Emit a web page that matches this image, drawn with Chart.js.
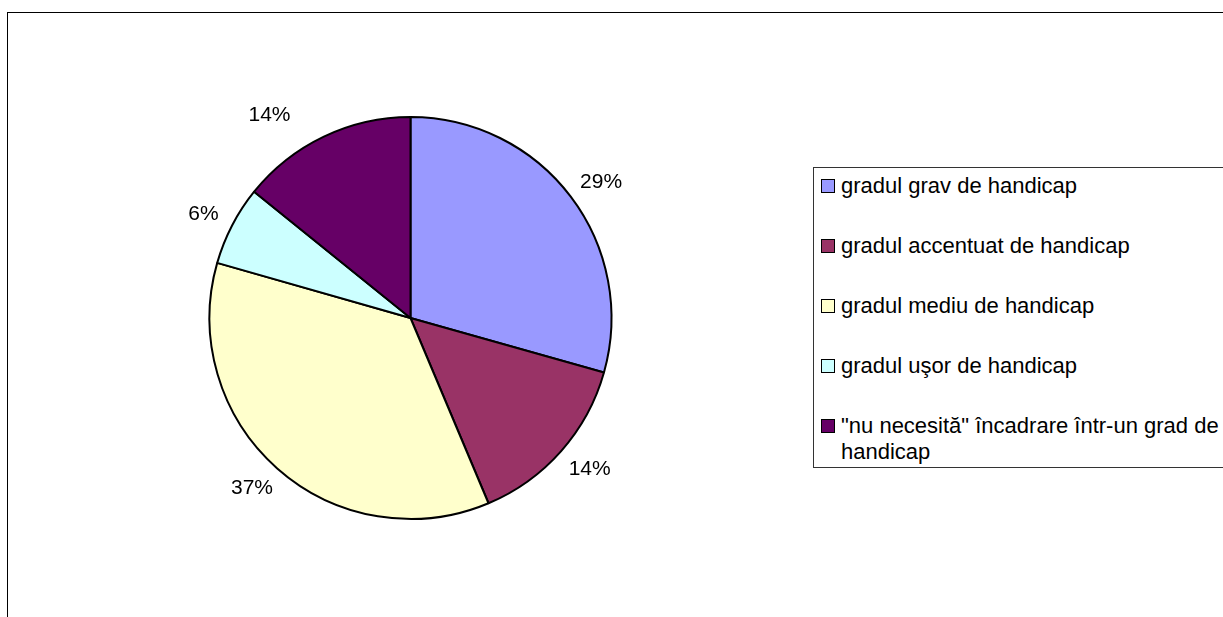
<!DOCTYPE html>
<html>
<head>
<meta charset="utf-8">
<script src="https://cdn.jsdelivr.net/npm/chart.js@4.4.1/dist/chart.umd.min.js"></script>
<style>
  html, body { margin: 0; padding: 0; background: #fff; width: 1223px; height: 617px; overflow: hidden; }
  #frame { position: absolute; left: 7px; top: 12px; width: 1400px; height: 800px; border: 1px solid #000; box-sizing: border-box; }
  #wrap { position: absolute; left: 0; top: 0; width: 800px; height: 617px; }
  #legend { position: absolute; left: 813px; top: 167px; width: 430px; height: 301px; border: 1px solid #333; box-sizing: border-box;
            font-family: "Liberation Sans", Arial, sans-serif; font-size: 22px; color: #000; }
  .item { position: absolute; left: 0; line-height: 26px; }
  .mk { position: absolute; left: 7px; top: 6px; width: 14px; height: 14px; border: 1.5px solid #000; box-sizing: border-box; }
  .tx { position: absolute; left: 27px; top: 0; white-space: nowrap; }
</style>
</head>
<body>
<div id="frame"></div>
<div id="wrap"><canvas id="c"></canvas></div>
<div id="legend"></div>
<script>
const categories = [
  'gradul grav de handicap',
  'gradul accentuat de handicap',
  'gradul mediu de handicap',
  'gradul uşor de handicap',
  ['"nu necesită" încadrare într-un grad de', 'handicap']
];
const values = [29.4, 14.3, 35.8, 6.4, 14.2];
const pctLabels = ['29%', '14%', '37%', '6%', '14%'];
const colors = ['#9999FF', '#993366', '#FFFFCC', '#CCFFFF', '#660066'];

const FONT = '"Liberation Sans", Arial, sans-serif';

const pctPlugin = {
  id: 'pctPlugin',
  afterDatasetsDraw(chart, args, opts) {
    const ctx = chart.ctx;
    const meta = chart.getDatasetMeta(0);
    const shift = opts.shift || {};
    ctx.save();
    ctx.font = '21px ' + FONT;
    ctx.fillStyle = '#000';
    ctx.textAlign = 'center';
    ctx.textBaseline = 'middle';
    meta.data.forEach((arc, i) => {
      const p = arc.getProps(['x', 'y', 'startAngle', 'endAngle', 'outerRadius'], true);
      const mid = (p.startAngle + p.endAngle) / 2;
      const c = Math.cos(mid), s = Math.sin(mid);
      const r = p.outerRadius + 17;
      const w = ctx.measureText(pctLabels[i]).width;
      const h = 17;
      const sh = shift[i] || [0, 0];
      const x = p.x + c * r + c * w / 2 + sh[0];
      const y = p.y + s * r + s * h / 2 + sh[1];
      ctx.fillText(pctLabels[i], x, y + 1);
    });
    ctx.restore();
  }
};

new Chart(document.getElementById('c'), {
  type: 'pie',
  data: {
    labels: categories,
    datasets: [{
      data: values,
      backgroundColor: colors,
      borderColor: '#000',
      borderWidth: 2
    }]
  },
  options: {
    responsive: true,
    maintainAspectRatio: false,
    animation: false,
    layout: { padding: { left: 208.5, top: 116, right: 187.5, bottom: 97 } },
    plugins: {
      legend: { display: false },
      tooltip: { enabled: false },
      pctPlugin: { shift: { 4: [-38, 1] } }
    }
  },
  plugins: [pctPlugin]
});

// HTML legend built from the arrays
const lg = document.getElementById('legend');
categories.forEach((lab, i) => {
  const it = document.createElement('div');
  it.className = 'item';
  it.style.top = (5 + 60 * i) + 'px';
  const mk = document.createElement('div');
  mk.className = 'mk';
  mk.style.background = colors[i];
  const tx = document.createElement('div');
  tx.className = 'tx';
  const lines = Array.isArray(lab) ? lab : [lab];
  lines.forEach((ln, k) => {
    if (k) tx.appendChild(document.createElement('br'));
    tx.appendChild(document.createTextNode(ln));
  });
  it.appendChild(mk);
  it.appendChild(tx);
  lg.appendChild(it);
});
</script>
</body>
</html>
